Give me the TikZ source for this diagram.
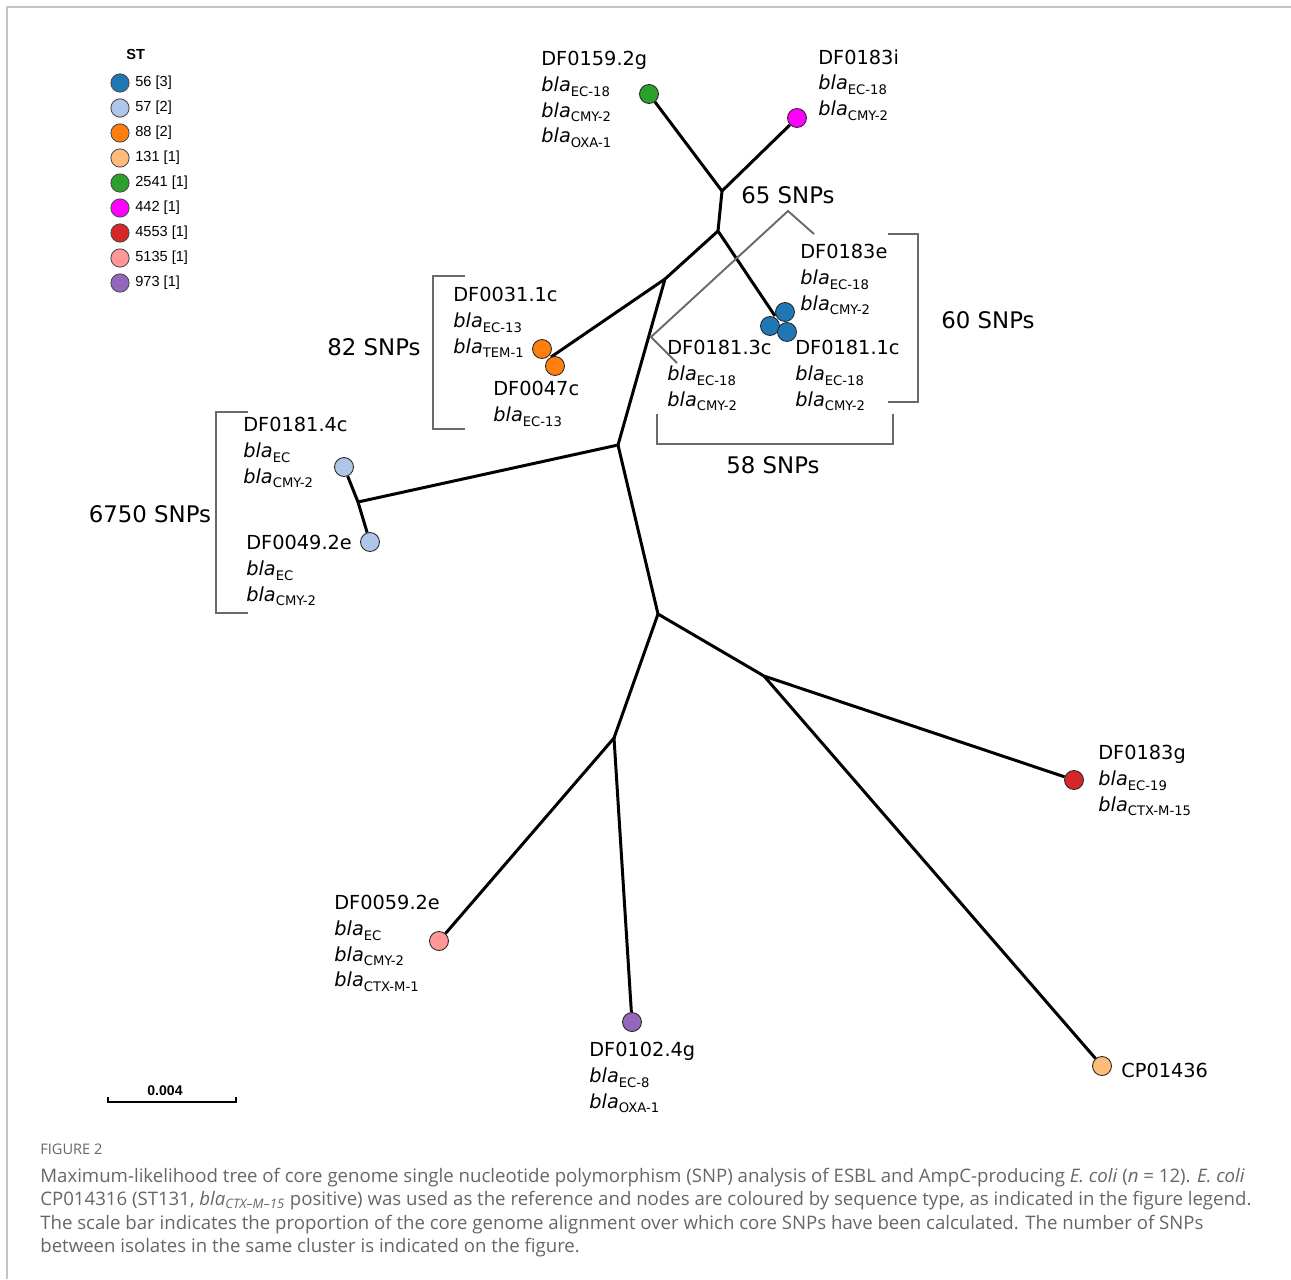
\documentclass[tikz,border=0pt]{standalone}
\usepackage{fontspec}
\setmainfont{DejaVu Sans}
\newfontfamily\keyfont{Liberation Sans}
\newfontfamily\capfont{Open Sans}
\definecolor{st56}{HTML}{1F77B4}
\definecolor{st57}{HTML}{AEC7E8}
\definecolor{st88}{HTML}{FF7F0E}
\definecolor{st131}{HTML}{FFBB78}
\definecolor{st2541}{HTML}{2CA02C}
\definecolor{st442}{HTML}{FF00FF}
\definecolor{st4553}{HTML}{D62728}
\definecolor{st5135}{HTML}{FF9896}
\definecolor{st973}{HTML}{9467BD}
\definecolor{notegray}{HTML}{6A6A6A}
\definecolor{capgray}{HTML}{666666}
\definecolor{framegray}{HTML}{C4C4C4}
\newcommand{\blagene}[1]{\textit{bla}\raisebox{-0.45ex}{\fontsize{7.5}{8}\selectfont #1}}
\begin{document}
\begin{tikzpicture}[x=0.02cm, y=-0.02cm,
    branch/.style={line width=1.7pt, line join=round},
    note/.style={notegray, line width=1.1pt},
    leaf/.style={circle, draw=black!85, line width=0.5pt, minimum size=10.8pt, inner sep=0pt},
    keydot/.style={circle, draw=black!70, line width=0.5pt, minimum size=10.4pt, inner sep=0pt},
    keytxt/.style={anchor=west, inner sep=0pt, font=\keyfont\fontsize{8.3}{9}\selectfont},
    lab/.style={anchor=north west, inner sep=0pt, align=left, font=\fontsize{11}{14.6}\selectfont},
    snp/.style={inner sep=0pt, font=\fontsize{13}{15}\selectfont}]
    \useasboundingbox (0,0) rectangle (1291,1279);
    \draw[framegray, line width=1.1pt] (1291,7) -- (7,7) -- (7,1279);

    % legend
    \node[anchor=west, inner sep=0pt, font=\keyfont\bfseries\fontsize{8.3}{9}\selectfont] (st) at (126,54) {ST};
    \node[keydot, fill=st56] (k1) at (120,83) {};
    \node[keydot, fill=st57] (k2) at (120,108) {};
    \node[keydot, fill=st88] (k3) at (120,133) {};
    \node[keydot, fill=st131] (k4) at (120,158) {};
    \node[keydot, fill=st2541] (k5) at (120,183) {};
    \node[keydot, fill=st442] (k6) at (120,208) {};
    \node[keydot, fill=st4553] (k7) at (120,233) {};
    \node[keydot, fill=st5135] (k8) at (120,258) {};
    \node[keydot, fill=st973] (k9) at (120,283) {};
    \node[keytxt] (kt1) at (135,83) {56 [3]};
    \node[keytxt] (kt2) at (135,108) {57 [2]};
    \node[keytxt] (kt3) at (135,133) {88 [2]};
    \node[keytxt] (kt4) at (135,158) {131 [1]};
    \node[keytxt] (kt5) at (135,183) {2541 [1]};
    \node[keytxt] (kt6) at (135,208) {442 [1]};
    \node[keytxt] (kt7) at (135,233) {4553 [1]};
    \node[keytxt] (kt8) at (135,258) {5135 [1]};
    \node[keytxt] (kt9) at (135,283) {973 [1]};

    % tree
    \coordinate (a) at (722,191);
    \coordinate (b) at (718,231);
    \coordinate (c) at (665,279);
    \coordinate (d) at (618,445);
    \coordinate (e) at (358,502);
    \coordinate (f) at (658,614);
    \coordinate (g) at (614,738);
    \coordinate (h) at (764,676);
    \coordinate (bc) at (775,316);
    \coordinate (oc) at (551,357);
    \node[leaf, fill=st2541] (grn) at (649,94) {};
    \node[leaf, fill=st442] (mag) at (797,118) {};
    \node[leaf, fill=st57] (lb1) at (344,467) {};
    \node[leaf, fill=st57] (lb2) at (370,542) {};
    \node[leaf, fill=st5135] (pnk) at (439,941) {};
    \node[leaf, fill=st973] (pur) at (632,1022) {};
    \node[leaf, fill=st4553] (red) at (1074,780) {};
    \node[leaf, fill=st131] (ref) at (1102,1066) {};
    \draw[branch] (grn) -- (a) -- (mag);
    \draw[branch] (a) -- (b) -- (bc);
    \draw[branch] (b) -- (c) -- (oc);
    \draw[branch] (c) -- (d) -- (e);
    \draw[branch] (lb1) -- (e) -- (lb2);
    \draw[branch] (d) -- (f) -- (h) -- (red);
    \draw[branch] (h) -- (ref);
    \draw[branch] (f) -- (g) -- (pnk);
    \draw[branch] (g) -- (pur);
    \node[leaf, fill=st56] (bl1) at (785,312) {};
    \node[leaf, fill=st56] (bl2) at (770,326) {};
    \node[leaf, fill=st56] (bl3) at (787,332) {};
    \node[leaf, fill=st88] (or1) at (542,349) {};
    \node[leaf, fill=st88] (or2) at (555,366) {};

    % isolates
    \node[lab] (t159) at (541,51) {DF0159.2g\\ \blagene{EC-18}\\ \blagene{CMY-2}\\ \blagene{OXA-1}};
    \node[lab] (t183i) at (818,49) {DF0183i\\ \blagene{EC-18}\\ \blagene{CMY-2}};
    \node[lab] (t183e) at (800,244) {DF0183e\\ \blagene{EC-18}\\ \blagene{CMY-2}};
    \node[lab] (t031) at (453,287) {DF0031.1c\\ \blagene{EC-13}\\ \blagene{TEM-1}};
    \node[lab] (t047) at (493,381) {DF0047c\\ \blagene{EC-13}};
    \node[lab] (t1813) at (667,340) {DF0181.3c\\ \blagene{EC-18}\\ \blagene{CMY-2}};
    \node[lab] (t1811) at (795,340) {DF0181.1c\\ \blagene{EC-18}\\ \blagene{CMY-2}};
    \node[lab] (t1814) at (243,417) {DF0181.4c\\ \blagene{EC}\\ \blagene{CMY-2}};
    \node[lab] (t049) at (246,535) {DF0049.2e\\ \blagene{EC}\\ \blagene{CMY-2}};
    \node[lab] (t183g) at (1098,745) {DF0183g\\ \blagene{EC-19}\\ \blagene{CTX-M-15}};
    \node[lab] (t059) at (334,895) {DF0059.2e\\ \blagene{EC}\\ \blagene{CMY-2}\\ \blagene{CTX-M-1}};
    \node[lab] (t102) at (589,1042) {DF0102.4g\\ \blagene{EC-8}\\ \blagene{OXA-1}};
    \node[lab] (tcp) at (1121,1063) {CP01436};

    % SNP brackets
    \draw[note] (677,363) -- (651,337) -- (788,211) -- (814,234);
    \draw[note] (888,234) -- (918,234) -- (918,402) -- (888,402);
    \draw[note] (657,414) -- (657,444) -- (893,444) -- (893,414);
    \draw[note] (465,276) -- (433,276) -- (433,429) -- (465,429);
    \draw[note] (248,412) -- (216,412) -- (216,613) -- (248,613);
    \node[snp] (s65) at (788,195) {65 SNPs};
    \node[snp] (s60) at (988,320) {60 SNPs};
    \node[snp] (s58) at (773,465) {58 SNPs};
    \node[snp] (s82) at (374,347) {82 SNPs};
    \node[snp] (s6750) at (150,514) {6750 SNPs};

    % scale bar
    \draw[line width=1.2pt] (108,1097) -- (108,1102) -- (236,1102) -- (236,1097);
    \node[inner sep=0pt, font=\keyfont\bfseries\fontsize{8}{9}\selectfont] (scl) at (165,1091) {0.004};

    % caption
    \node[anchor=west, inner sep=0pt, text=capgray, font=\capfont\fontsize{8.3}{9}\selectfont] (fig) at (40,1149) {FIGURE 2};
    \node[anchor=north west, inner sep=0pt, align=left, text=capgray, font=\capfont\fontsize{10.6}{13.2}\selectfont] (cap) at (40,1168) {Maximum-likelihood tree of core genome single nucleotide polymorphism (SNP) analysis of ESBL and AmpC-producing \textit{E. coli} (\textit{n} = 12). \textit{E. coli}\\ CP014316 (ST131, \textit{bla}\textsubscript{\textit{CTX\textendash M\textendash 15}} positive) was used as the reference and nodes are coloured by sequence type, as indicated in the figure legend.\\ The scale bar indicates the proportion of the core genome alignment over which core SNPs have been calculated. The number of SNPs\\ between isolates in the same cluster is indicated on the figure.};
\end{tikzpicture}
\end{document}
